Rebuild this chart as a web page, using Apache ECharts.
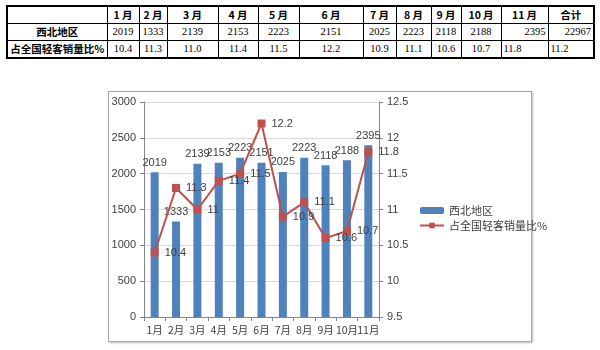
<!DOCTYPE html>
<html>
<head>
<meta charset="utf-8">
<script src="https://cdn.jsdelivr.net/npm/echarts@6/dist/echarts.min.js"></script>
<style>
  html, body { margin:0; padding:0; background:#fff; width:600px; height:350px; overflow:hidden; }
  #tbl { position:absolute; left:6px; top:5px; border-collapse:collapse; border:2px solid #000; table-layout:fixed;
         font-family:"Liberation Serif","Noto Sans CJK SC",serif; font-size:10.5px; color:#000; }
  #tbl td { border:1px solid #000; height:16px; padding:0 2px; text-align:center; white-space:nowrap; overflow:hidden; line-height:16px; }
  #tbl td.b { font-weight:bold; font-family:"Noto Sans CJK SC","Liberation Serif",serif; }
  #tbl td.r { text-align:right; }
  #tbl td.l { text-align:left; }
  #box { position:absolute; left:108px; top:91px; width:422px; height:249px; border:1px solid #a6a6a6; box-shadow:1px 1px 2px #bbb; }
  #chart { position:absolute; left:0; top:0; width:600px; height:350px; }
</style>
</head>
<body>
<table id="tbl"></table>
<div id="box"></div>
<div id="chart"></div>
<script>
const months = ['1月','2月','3月','4月','5月','6月','7月','8月','9月','10月','11月'];
const sales = [2019, 1333, 2139, 2153, 2223, 2151, 2025, 2223, 2118, 2188, 2395];
const share = [10.4, 11.3, 11.0, 11.4, 11.5, 12.2, 10.9, 11.1, 10.6, 10.7, 11.8];
const totalLabel = '合计';
const totalSales = 22967;
const totalShare = 11.2;
const rowNames = ['西北地区', '占全国轻客销量比%'];
const seriesNames = ['西北地区', '占全国轻客销量比%'];
const colWidths = [100, 32, 28, 51, 40, 41, 64, 33, 35, 30, 40, 47, 46];

// Build table
const tbl = document.getElementById('tbl');
const cg = document.createElement('colgroup');
colWidths.forEach(w => { const c = document.createElement('col'); c.style.width = w + 'px'; cg.appendChild(c); });
tbl.appendChild(cg);
function row(cells) {
  const tr = document.createElement('tr');
  cells.forEach(([txt, cls]) => { const td = document.createElement('td'); td.textContent = txt; if (cls) td.className = cls; tr.appendChild(td); });
  tbl.appendChild(tr);
}
row([['', ''], ...months.map(m => [m.replace('月', '\u2009月'), 'b']), [totalLabel, 'b']]);
row([[rowNames[0], 'b'], ...sales.map((v, i) => [String(v), i === sales.length - 1 ? 'r' : '']), [String(totalSales), 'r']]);
row([[rowNames[1], 'b'], ...share.map((v, i) => [v.toFixed(1), i === share.length - 1 ? 'l' : '']), [totalShare.toFixed(1), 'l']]);

const chart = echarts.init(document.getElementById('chart'));
const txt = { color:'#404040', fontSize:11, fontFamily:'"Liberation Sans","Noto Sans CJK SC",sans-serif' };
chart.setOption({
  animation:false,
  textStyle: txt,
  grid: { left:144, right:221, top:102, bottom:33 },
  legend: {
    orient:'vertical', left:414, top:200, itemWidth:24, itemHeight:7, itemGap:4,
    textStyle: Object.assign({}, txt, { fontFamily:'"Noto Sans CJK SC",sans-serif' }),
    data: seriesNames
  },
  xAxis: {
    type:'category', data: months,
    axisLine:{ lineStyle:{ color:'#868686' } },
    axisTick:{ show:true, lineStyle:{ color:'#868686' }, length:4 },
    axisLabel: Object.assign({ margin:8, interval:0, hideOverlap:false }, txt, { fontSize:10.5, fontFamily:'"Noto Sans CJK SC",sans-serif' })
  },
  yAxis: [
    { type:'value', min:0, max:3000, interval:500,
      axisLine:{ show:true, lineStyle:{ color:'#868686' } },
      axisTick:{ show:true, length:4, lineStyle:{ color:'#868686' } },
      splitLine:{ lineStyle:{ color:'#d9d9d9' } },
      axisLabel: Object.assign({ margin:8, formatter: v => String(v) }, txt) },
    { type:'value', min:9.5, max:12.5, interval:0.5,
      axisLine:{ show:true, lineStyle:{ color:'#868686' } },
      axisTick:{ show:true, length:4, lineStyle:{ color:'#868686' } },
      splitLine:{ show:false },
      axisLabel: Object.assign({ margin:8, formatter: v => String(v) }, txt) }
  ],
  series: [
    { name: seriesNames[0], type:'bar', data: sales, barWidth:8,
      itemStyle:{ color:'#4f81bd' },
      label:{ show:true, position:'top', distance:4, color:'#404040', fontSize:11, fontFamily:txt.fontFamily } },
    { name: seriesNames[1], type:'line', yAxisIndex:1, data: share,
      symbol:'rect', symbolSize:8, z:5,
      lineStyle:{ color:'#c0504d', width:2 }, itemStyle:{ color:'#c0504d' },
      label:{ show:true, position:'right', distance:6, color:'#404040', fontSize:11, fontFamily:txt.fontFamily } }
  ]
});
</script>
</body>
</html>
